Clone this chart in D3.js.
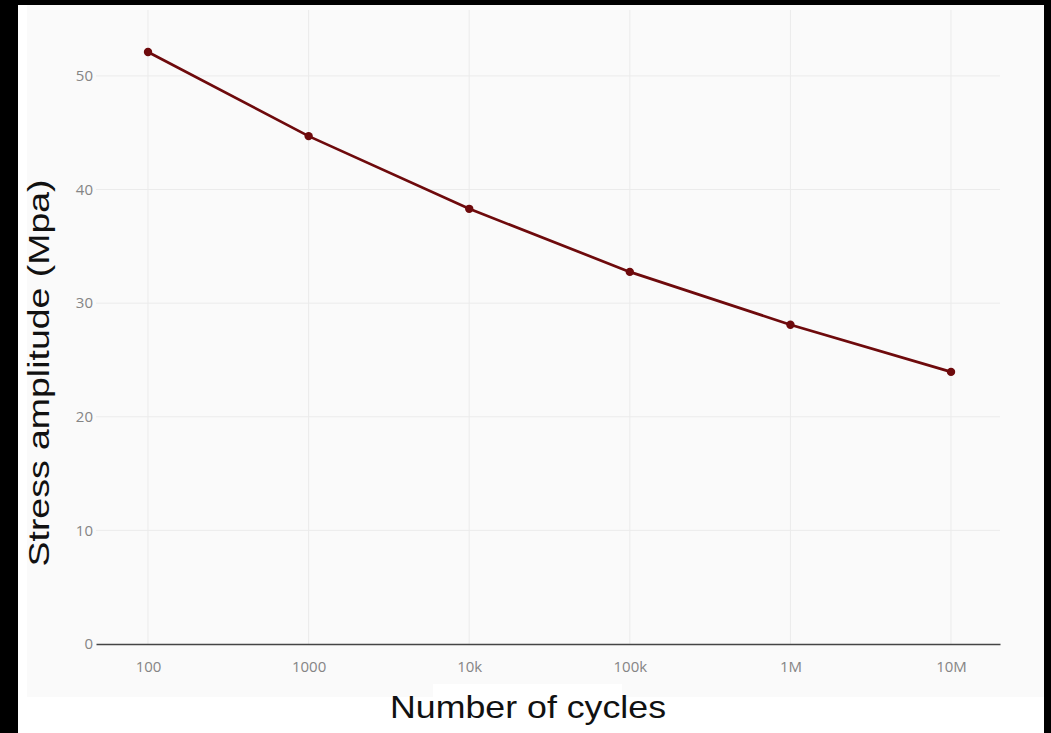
<!DOCTYPE html>
<html>
<head>
<meta charset="utf-8">
<script src="https://cdn.jsdelivr.net/npm/d3@7"></script>
<style>
html,body{margin:0;padding:0;background:#000;}
svg{display:block;}
</style>
</head>
<body>
<svg id="chart" width="1051" height="733"></svg>
<script>
const cycles = [100, 1000, 10000, 100000, 1000000, 10000000];
const stress = [52.1, 44.7, 38.3, 32.75, 28.1, 23.95];
const xTickValues = [100, 1000, 10000, 100000, 1000000, 10000000];
const xTickLabels = ["100", "1000", "10k", "100k", "1M", "10M"];
const yTickValues = [0, 10, 20, 30, 40, 50];
const xTitle = "Number of cycles";
const yTitle = "Stress amplitude (Mpa)";

const svg = d3.select("#chart");
// background
svg.append("rect").attr("x",0).attr("y",0).attr("width",1051).attr("height",733).attr("fill","#000");
svg.append("rect").attr("x",18).attr("y",5).attr("width",1026).attr("height",728).attr("fill","#fff");
svg.append("rect").attr("x",27).attr("y",5).attr("width",1017).attr("height",692).attr("fill","#fafafa");

const x = d3.scaleLog().domain([Math.pow(10,1.6762), Math.pow(10,7.305)]).range([96, 1000]);
const y = d3.scaleLinear().domain([0, 55.8]).range([644, 10]);

// grid
const g = svg.append("g");
g.selectAll("line.vg").data(xTickValues).enter().append("line")
  .attr("x1", d=>x(d)).attr("x2", d=>x(d)).attr("y1", y(55.8)).attr("y2", y(0))
  .attr("stroke","#ebebeb").attr("stroke-width",1);
g.selectAll("line.hg").data(yTickValues.slice(1)).enter().append("line")
  .attr("x1", 96).attr("x2", 1000).attr("y1", d=>y(d)).attr("y2", d=>y(d))
  .attr("stroke","#ebebeb").attr("stroke-width",1);

// axes
const xAxis = d3.axisBottom(x).tickValues(xTickValues)
  .tickFormat((d,i)=>xTickLabels[i]).tickSize(0).tickPadding(17);
const xg = svg.append("g").attr("transform",`translate(0,${y(0)})`).call(xAxis);
xg.select(".domain").attr("stroke","#444").attr("stroke-width",1.4);
xg.selectAll("text").attr("fill","#858585").style("font-family","'Open Sans', sans-serif").style("font-size","15px");

const yAxis = d3.axisLeft(y).tickValues(yTickValues).tickSize(0).tickPadding(3);
const yg = svg.append("g").attr("transform",`translate(96,0)`).call(yAxis);
yg.select(".domain").remove();
yg.selectAll("text").attr("fill","#858585").style("font-family","'Open Sans', sans-serif").style("font-size","15px");

// line
const pts = cycles.map((c,i)=>[c, stress[i]]);
svg.append("path").datum(pts)
  .attr("d", d3.line().x(d=>x(d[0])).y(d=>y(d[1])))
  .attr("fill","none").attr("stroke","#6e0a0c").attr("stroke-width",2.7);
svg.selectAll("circle.pt").data(pts).enter().append("circle")
  .attr("cx", d=>x(d[0])).attr("cy", d=>y(d[1])).attr("r",4.2)
  .attr("fill","#6e0a0c");

// titles
svg.append("rect").attr("x",433).attr("y",684).attr("width",189).attr("height",14).attr("fill","#fff");
svg.append("text").attr("x",528).attr("y",718).attr("text-anchor","middle")
  .style("font-family","'Liberation Sans', Arial, sans-serif").style("font-size","32px")
  .attr("textLength",276).attr("lengthAdjust","spacingAndGlyphs")
  .attr("fill","#111").text(xTitle);
svg.append("text").attr("transform","translate(49,373) rotate(-90)").attr("text-anchor","middle")
  .style("font-family","'Liberation Sans', Arial, sans-serif").style("font-size","30px")
  .attr("textLength",387).attr("lengthAdjust","spacingAndGlyphs")
  .attr("fill","#111").text(yTitle);
</script>
</body>
</html>
